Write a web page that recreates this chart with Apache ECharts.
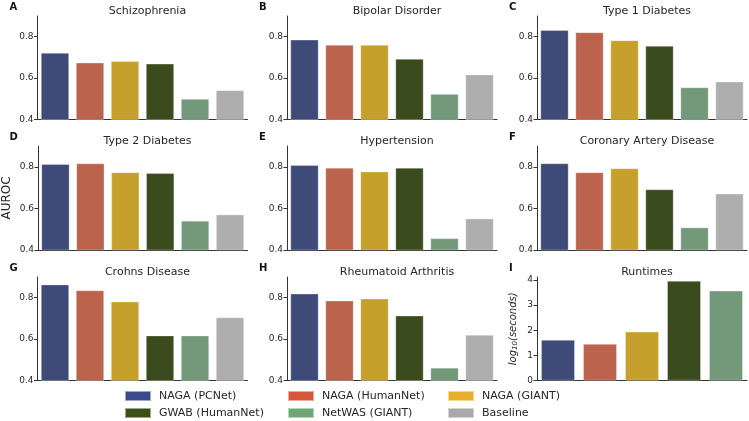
<!DOCTYPE html>
<html>
<head>
<meta charset="utf-8">
<script src="https://cdn.jsdelivr.net/npm/echarts@6/dist/echarts.min.js"></script>
<style>html,body{margin:0;padding:0;background:#fff}#c{width:749px;height:421px}</style>
</head>
<body>
<div id="c"></div>
<script>
const methods = ['NAGA (PCNet)', 'NAGA (HumanNet)', 'NAGA (GIANT)', 'GWAB (HumanNet)', 'NetWAS (GIANT)', 'Baseline'];
const titles = ['Schizophrenia', 'Bipolar Disorder', 'Type 1 Diabetes', 'Type 2 Diabetes', 'Hypertension', 'Coronary Artery Disease', 'Crohns Disease', 'Rheumatoid Arthritis', 'Runtimes'];
const panelLetters = ['A', 'B', 'C', 'D', 'E', 'F', 'G', 'H', 'I'];
const schizophrenia = [0.721, 0.674, 0.682, 0.669, 0.499, 0.541];
const bipolar = [0.785, 0.760, 0.760, 0.692, 0.523, 0.617];
const type1Diabetes = [0.832, 0.821, 0.782, 0.755, 0.555, 0.583];
const type2Diabetes = [0.813, 0.816, 0.773, 0.769, 0.540, 0.570];
const hypertension = [0.808, 0.795, 0.777, 0.795, 0.456, 0.551];
const coronary = [0.816, 0.773, 0.792, 0.691, 0.508, 0.671];
const crohns = [0.863, 0.835, 0.781, 0.617, 0.617, 0.704];
const rheumatoid = [0.819, 0.786, 0.795, 0.713, 0.461, 0.620];
const runtimes = [1.61, 1.45, 1.94, 3.96, 3.57];
const aurocTicks = [0.4, 0.6, 0.8];
const runtimeTicks = [0, 1, 2, 3, 4];

const barColors = ['#3e4a77', '#bb634d', '#c5a02c', '#3a4c1e', '#73997a', '#aeaeae'];
const legendColors = ['#3a4a8a', '#d4573b', '#e8b02a', '#3b4f18', '#6ea676', '#a9a9ad'];

const panelData = [schizophrenia, bipolar, type1Diabetes, type2Diabetes, hypertension, coronary, crohns, rheumatoid, runtimes];

const colLeft = [37.5, 287, 537];
const rowTop = [16, 146, 277];
const rowBottom = [119.5, 250, 380.5];
const gridW = 210;

const grids = [], xAxes = [], yAxes = [], series = [], titleComps = [], graphics = [];
const axisColor = '#333333';
const textColor = '#262626';

for (let p = 0; p < 9; p++) {
  const r = Math.floor(p / 3), c = p % 3;
  const vals = panelData[p];
  const n = vals.length;
  grids.push({left: colLeft[c], top: rowTop[r], width: gridW, height: rowBottom[r] - rowTop[r]});
  xAxes.push({
    type: 'category', gridIndex: p, data: methods.slice(0, n),
    axisLine: {lineStyle: {color: axisColor, width: 1}},
    axisTick: {alignWithLabel: true, length: 3.5, lineStyle: {color: axisColor}},
    axisLabel: {show: false}, splitLine: {show: false}
  });
  const isRt = p === 8;
  const y = {
    type: 'value', gridIndex: p,
    min: isRt ? 0 : 0.4, max: isRt ? 4.12 : 0.9,
    axisLine: {show: true, lineStyle: {color: axisColor, width: 1}},
    axisTick: {show: true, length: 3.5, lineStyle: {color: axisColor}, customValues: isRt ? runtimeTicks : aurocTicks},
    axisLabel: {color: textColor, fontSize: 9, fontFamily: 'DejaVu Sans', margin: 4, customValues: isRt ? runtimeTicks : aurocTicks,
      formatter: v => isRt ? String(v) : v.toFixed(1)},
    splitLine: {show: false}
  };
  if (p === 3) {
    y.name = 'AUROC'; y.nameLocation = 'middle'; y.nameGap = 25; y.nameRotate = 90;
    y.nameTextStyle = {fontSize: 12, fontFamily: 'DejaVu Sans', color: textColor};
  }
  if (isRt) {
    y.name = '{i|log}{s|10}{i|(seconds)}'; y.nameLocation = 'middle'; y.nameGap = 18; y.nameRotate = 90;
    y.nameTextStyle = {color: textColor, rich: {
      i: {fontSize: 10, fontStyle: 'italic', fontFamily: 'DejaVu Sans', color: textColor},
      s: {fontSize: 7, fontStyle: 'italic', fontFamily: 'DejaVu Sans', color: textColor, verticalAlign: 'bottom', padding: [4, 0, 0, 0]}
    }};
  }
  yAxes.push(y);
  for (let m = 0; m < n; m++) {
    const d = vals.map((v, i) => i === m ? v : '-');
    series.push({
      type: 'bar', name: methods[m], xAxisIndex: p, yAxisIndex: p, stack: 'panel' + p,
      data: d, barWidth: '80%',
      itemStyle: {color: barColors[m], borderColor: 'rgba(255,255,255,0.5)', borderWidth: 0.6},
      emphasis: {disabled: true}, silent: true
    });
  }
  titleComps.push({
    text: titles[p], left: colLeft[c] + gridW / 2, top: rowTop[r] - 15, textAlign: 'center',
    textStyle: {fontSize: 11, fontWeight: 'normal', fontFamily: 'DejaVu Sans', color: textColor}
  });
  graphics.push({
    type: 'text', left: colLeft[c] - 28, top: rowTop[r] - 14,
    style: {text: panelLetters[p], font: 'bold 10px "DejaVu Sans"', fill: '#111'}
  });
}

// legend: 3 columns x 2 rows
const legendOrder = [0, 1, 2, 3, 4, 5];
const legendLeft = [124, 287, 447];
const legendTop = [390, 407];
const legends = legendOrder.map((i, k) => ({
  orient: 'horizontal', left: legendLeft[k % 3], top: legendTop[Math.floor(k / 3)],
  itemWidth: 26, itemHeight: 10, padding: 0,
  icon: 'rect', selectedMode: false,
  textStyle: {fontSize: 11, fontFamily: 'DejaVu Sans', color: textColor, padding: [0, 0, 0, 3]},
  data: [{name: methods[i], itemStyle: {color: legendColors[i]}}]
}));

const chart = echarts.init(document.getElementById('c'), null, {renderer: 'canvas'});
chart.setOption({
  animation: false,
  backgroundColor: '#fff',
  title: titleComps,
  grid: grids, xAxis: xAxes, yAxis: yAxes, series: series,
  legend: legends,
  graphic: graphics
});
</script>
</body>
</html>
